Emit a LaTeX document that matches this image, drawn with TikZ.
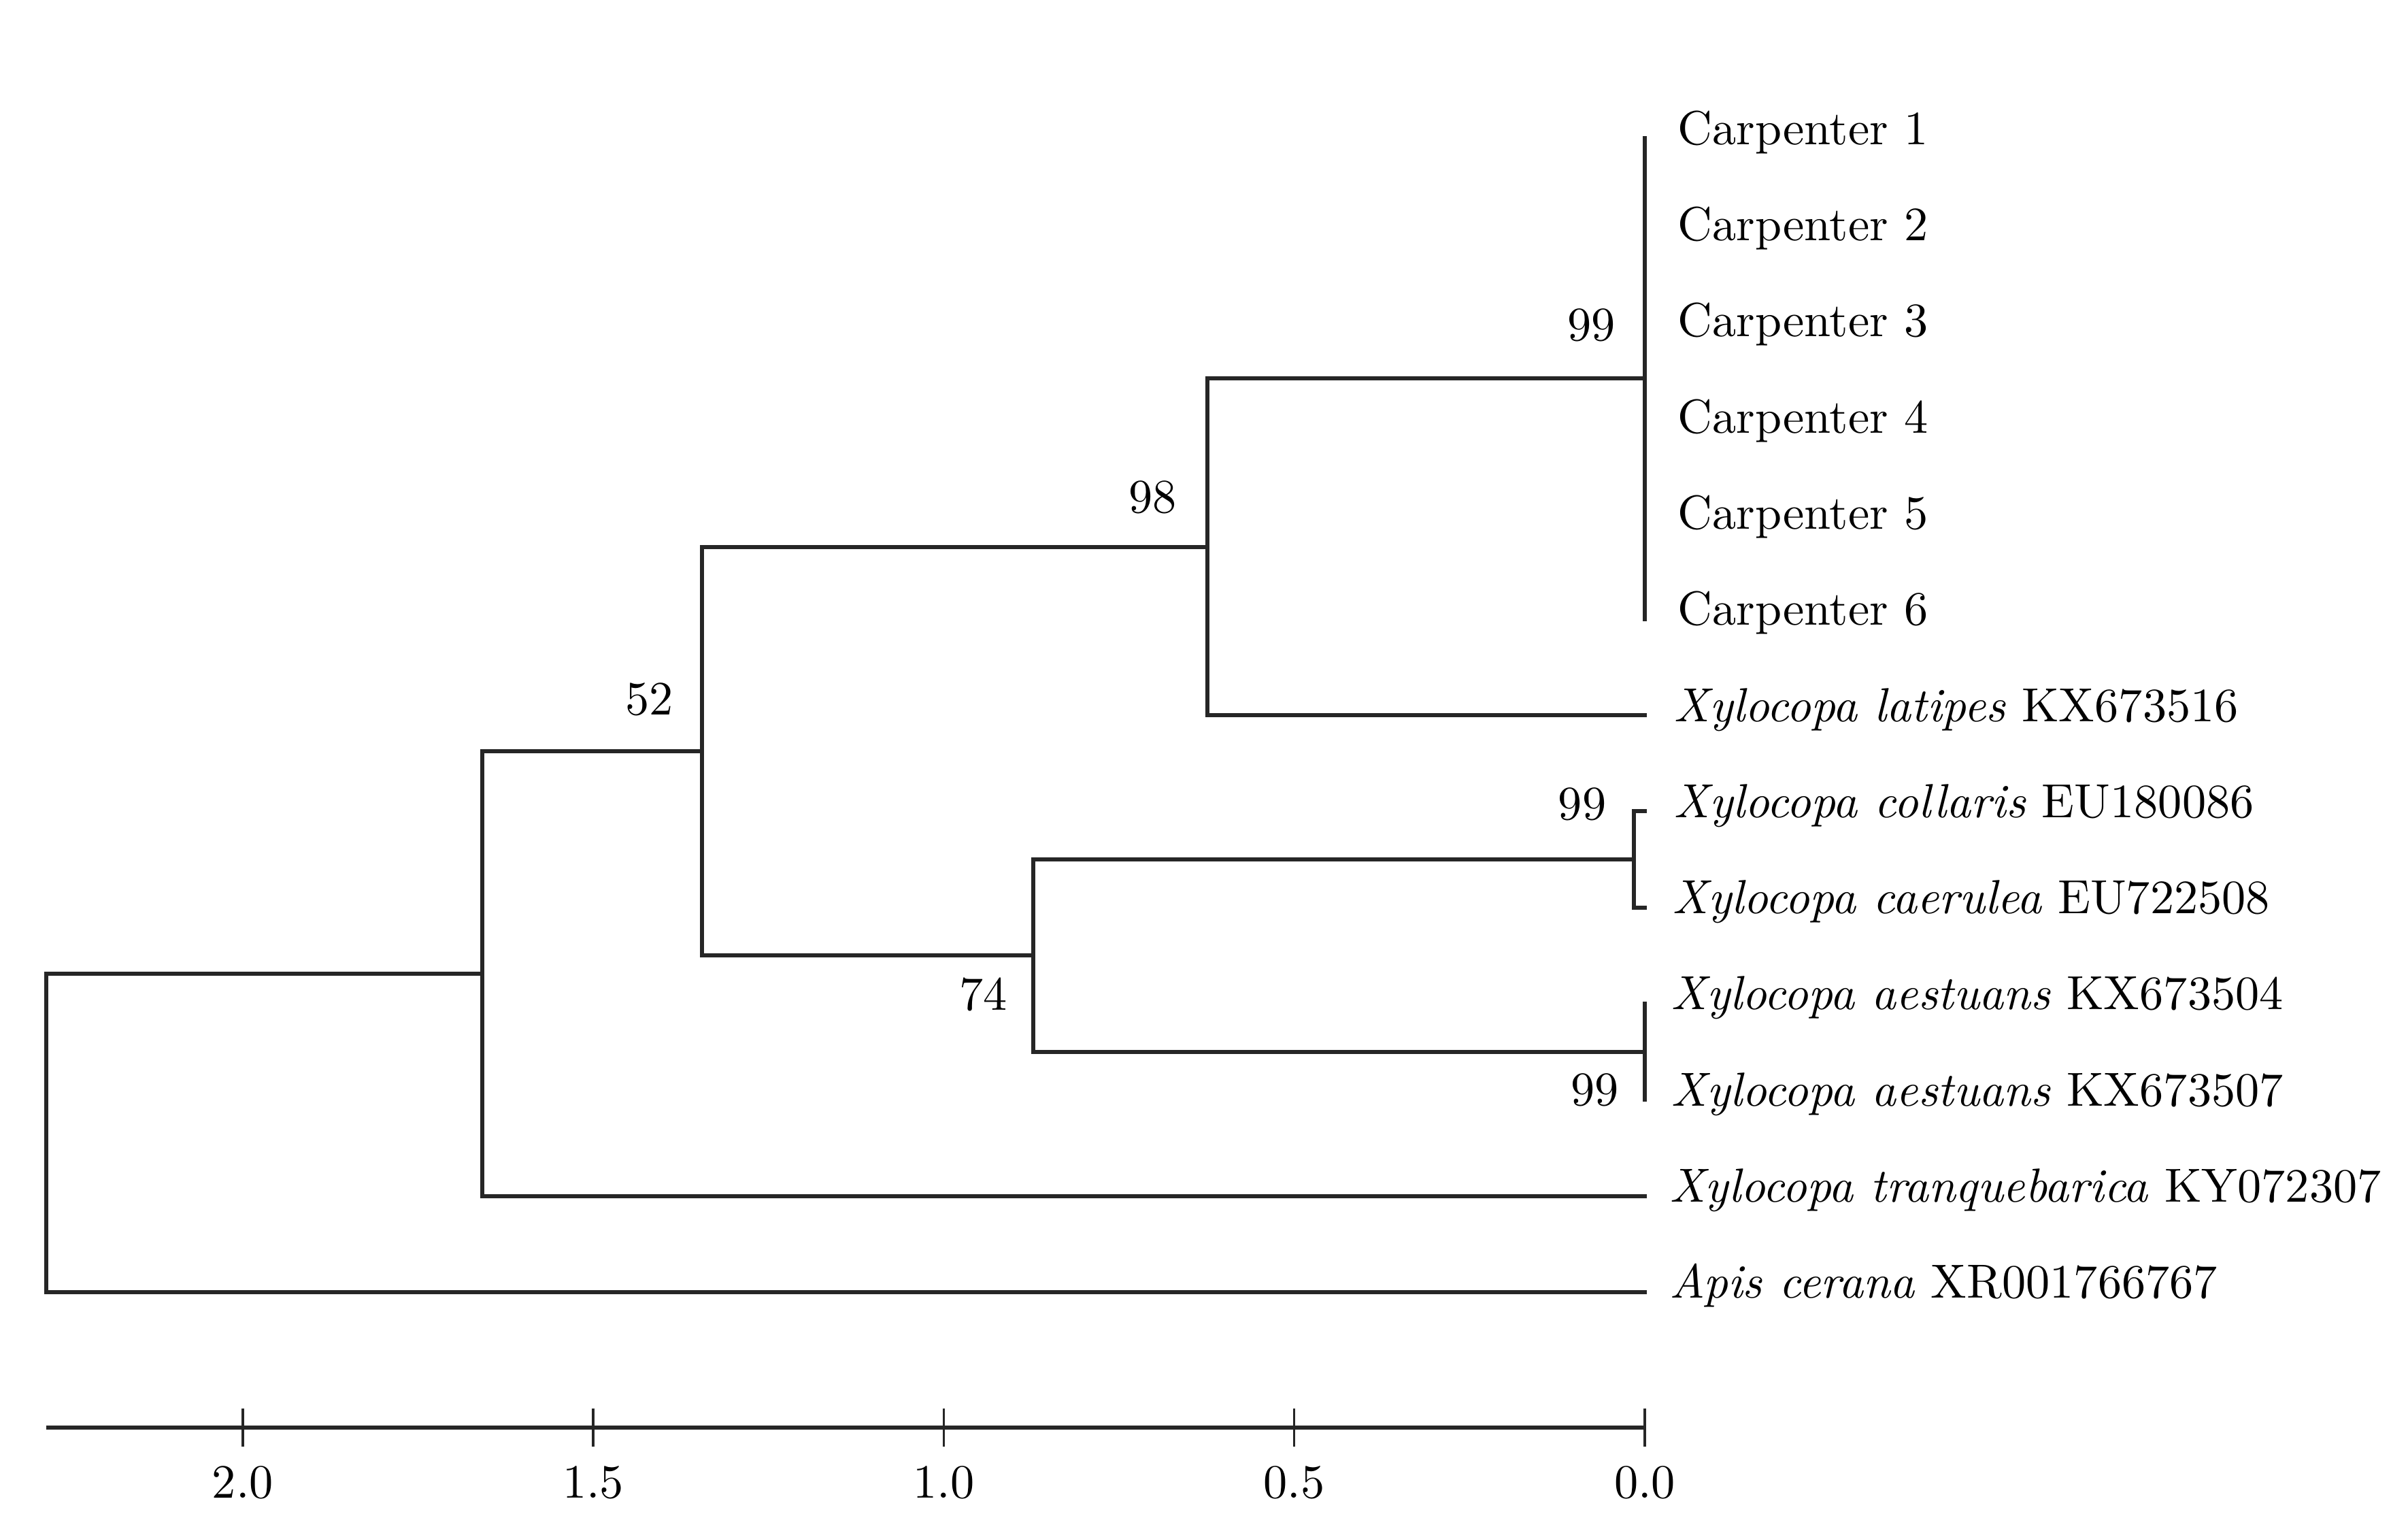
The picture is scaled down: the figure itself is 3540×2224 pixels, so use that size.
\documentclass[tikz,border=0pt]{standalone}
\usepackage{fontspec}
\setmainfont{lmroman10-regular.otf}[ItalicFont=lmroman10-italic.otf]
\begin{document}
\begin{tikzpicture}[x=0.01cm,y=-0.01cm,
  branch/.style={line width=1.7pt, draw=black!85, line cap=rect},
  tiplab/.style={anchor=base west, inner sep=0pt, font=\fontsize{20}{24}\selectfont},
  bootlab/.style={anchor=base east, inner sep=0pt, font=\fontsize{20}{24}\selectfont},
  ticklab/.style={anchor=base, inner sep=0pt, font=\fontsize{20}{24}\selectfont},
  tickmark/.style={line width=1pt, draw=black!85}]
\useasboundingbox (0,0) rectangle (3540,2224);
% tips
\coordinate (t1) at (2418,203.2);
\coordinate (t2) at (2418,344.5);
\coordinate (t3) at (2418,485.8);
\coordinate (t4) at (2418,627.1);
\coordinate (t5) at (2418,768.4);
\coordinate (t6) at (2418,909.7);
\coordinate (t7) at (2418,1051.0);
\coordinate (t8) at (2418,1192.3);
\coordinate (t9) at (2418,1333.6);
\coordinate (t10) at (2418,1474.9);
\coordinate (t11) at (2418,1616.2);
\coordinate (t12) at (2418,1757.5);
\coordinate (t13) at (2418,1898.8);
% internal nodes
\coordinate (nC) at (2418,556.45);
\coordinate (n3) at (1774.6,803.7);
\coordinate (n5) at (2402,1262.95);
\coordinate (n6) at (2418,1545.55);
\coordinate (n4) at (1519.4,1404.25);
\coordinate (n2) at (1031.8,1104.0);
\coordinate (n1) at (709,1430.75);
\coordinate (root) at (67.7,1664.8);
% branches
\draw[branch] (t1) -- (t6);
\draw[branch] (nC) -| (n3) |- (t7);
\draw[branch] (t8) -| (n5) |- (t9);
\draw[branch] (t10) -- (t11);
\draw[branch] (n5) -| (n4) |- (n6);
\draw[branch] (n3) -| (n2) |- (n4);
\draw[branch] (n2) -| (n1) |- (t12);
\draw[branch] (n1) -| (root) |- (t13);
% tip labels
\node[tiplab] (L1) at ([shift={(48,9)}]t1) {Carpenter 1};
\node[tiplab] (L2) at ([shift={(48,9)}]t2) {Carpenter 2};
\node[tiplab] (L3) at ([shift={(48,9)}]t3) {Carpenter 3};
\node[tiplab] (L4) at ([shift={(48,9)}]t4) {Carpenter 4};
\node[tiplab] (L5) at ([shift={(48,9)}]t5) {Carpenter 5};
\node[tiplab] (L6) at ([shift={(48,9)}]t6) {Carpenter 6};
\node[tiplab] (L7) at ([shift={(42,9)}]t7) {\textit{Xylocopa latipes} KX673516};
\node[tiplab] (L8) at ([shift={(42,9)}]t8) {\textit{Xylocopa collaris} EU180086};
\node[tiplab] (L9) at ([shift={(40,9)}]t9) {\textit{Xylocopa caerulea} EU722508};
\node[tiplab] (L10) at ([shift={(38,9)}]t10) {\textit{Xylocopa aestuans} KX673504};
\node[tiplab] (L11) at ([shift={(38,9)}]t11) {\textit{Xylocopa aestuans} KX673507};
\node[tiplab] (L12) at ([shift={(36,9)}]t12) {\textit{Xylocopa tranquebarica} KY072307};
\node[tiplab] (L13) at ([shift={(36,9)}]t13) {\textit{Apis cerana} XR001766767};
% bootstrap values
\node[bootlab] (b1) at ([shift={(-43,-56)}]nC) {99};
\node[bootlab] (b2) at ([shift={(-44,-50)}]n3) {98};
\node[bootlab] (b3) at ([shift={(-41,-54)}]n2) {52};
\node[bootlab] (b4) at ([shift={(-38,80)}]n4) {74};
\node[bootlab] (b5) at ([shift={(-40,-58)}]n5) {99};
\node[bootlab] (b6) at ([shift={(-38,79)}]n6) {99};
% scale axis
\coordinate (a0) at (67.7,2097.5);
\coordinate (a1) at (2418,2097.5);
\draw[branch, line cap=butt] (a0) -- (a1);
\coordinate (k20) at (356.8,2097.5);
\coordinate (k15) at (872.1,2097.5);
\coordinate (k10) at (1387.4,2097.5);
\coordinate (k05) at (1902.7,2097.5);
\coordinate (k00) at (2418,2097.5);
\draw[tickmark] ([shift={(0,-28)}]k20) -- ([shift={(0,28)}]k20);
\draw[tickmark] ([shift={(0,-28)}]k15) -- ([shift={(0,28)}]k15);
\draw[tickmark] ([shift={(0,-28)}]k10) -- ([shift={(0,28)}]k10);
\draw[tickmark] ([shift={(0,-28)}]k05) -- ([shift={(0,28)}]k05);
\draw[tickmark] ([shift={(0,-28)}]k00) -- ([shift={(0,28)}]k00);
\node[ticklab] (x20) at ([shift={(0,104)}]k20) {2.0};
\node[ticklab] (x15) at ([shift={(0,104)}]k15) {1.5};
\node[ticklab] (x10) at ([shift={(0,104)}]k10) {1.0};
\node[ticklab] (x05) at ([shift={(0,104)}]k05) {0.5};
\node[ticklab] (x00) at ([shift={(0,104)}]k00) {0.0};
\end{tikzpicture}
\end{document}
